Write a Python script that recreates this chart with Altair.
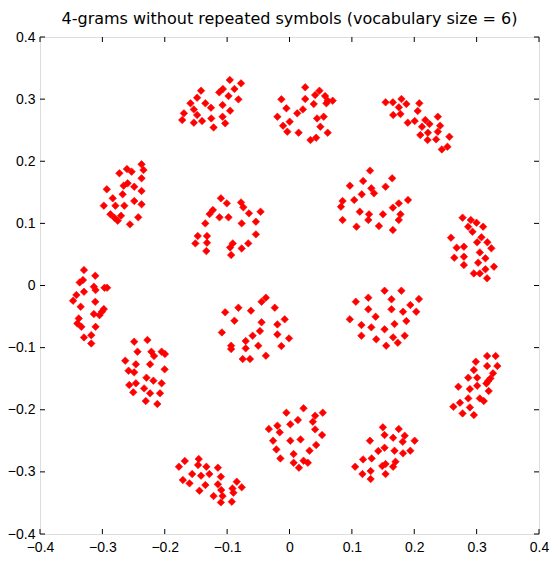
import altair as alt
import pandas as pd

TITLE = "4-grams without repeated symbols (vocabulary size = 6)"
TICKS = [-0.4, -0.3, -0.2, -0.1, 0.0, 0.1, 0.2, 0.3, 0.4]

cluster_01 = [(-0.0957, 0.3308), (-0.0777, 0.3254), (-0.1418, 0.3136), (-0.1068, 0.3163), (-0.1126, 0.3109), (-0.0883, 0.3163),
              (-0.0978, 0.3050), (-0.1481, 0.3023), (-0.0819, 0.2996), (-0.1587, 0.2932), (-0.1349, 0.2932), (-0.1073, 0.2905),
              (-0.1259, 0.2862), (-0.1534, 0.2835), (-0.0952, 0.2814), (-0.1693, 0.2771), (-0.1481, 0.2744), (-0.1720, 0.2663),
              (-0.1073, 0.2717), (-0.1254, 0.2690), (-0.1534, 0.2621), (-0.1402, 0.2647), (-0.1031, 0.2610), (-0.1217, 0.2545)]
cluster_02 = [(0.0252, 0.3190), (0.0480, 0.3136), (-0.0130, 0.2997), (0.0411, 0.3066), (0.0252, 0.3002), (0.0570, 0.3050),
              (0.0612, 0.2975), (0.0692, 0.2975), (0.0591, 0.2932), (0.0389, 0.2921), (-0.0050, 0.2852), (0.0215, 0.2835),
              (0.0124, 0.2771), (-0.0194, 0.2717), (0.0442, 0.2690), (0.0548, 0.2717), (0.0003, 0.2637), (-0.0103, 0.2572),
              (0.0495, 0.2556), (0.0146, 0.2460), (-0.0035, 0.2476), (0.0612, 0.2460), (0.0427, 0.2379), (0.0336, 0.2341)]
cluster_03 = [(0.1541, 0.2948), (0.1657, 0.2948), (0.1795, 0.3002), (0.1874, 0.2921), (0.1753, 0.2868), (0.2081, 0.2932),
              (0.1662, 0.2744), (0.1779, 0.2760), (0.2055, 0.2809), (0.1896, 0.2621), (0.2007, 0.2648), (0.2177, 0.2664),
              (0.2378, 0.2717), (0.2245, 0.2599), (0.2415, 0.2572), (0.2124, 0.2556), (0.2219, 0.2460), (0.2378, 0.2476),
              (0.2097, 0.2422), (0.2563, 0.2395), (0.2214, 0.2341), (0.2351, 0.2352), (0.2532, 0.2234), (0.2442, 0.2191)]
cluster_04 = [(-0.2372, 0.1951), (-0.2341, 0.1859), (-0.2606, 0.1875), (-0.2531, 0.1832), (-0.2727, 0.1806), (-0.2372, 0.1725),
              (-0.2595, 0.1645), (-0.2659, 0.1607), (-0.2489, 0.1591), (-0.2929, 0.1548), (-0.2675, 0.1467), (-0.2372, 0.1521),
              (-0.2834, 0.1403), (-0.2489, 0.1360), (-0.2977, 0.1285), (-0.2791, 0.1285), (-0.2648, 0.1285), (-0.2372, 0.1306),
              (-0.2871, 0.1145), (-0.2807, 0.1091), (-0.2701, 0.1124), (-0.2754, 0.1043), (-0.2425, 0.1097), (-0.2558, 0.0984)]
cluster_05 = [(-0.1100, 0.1403), (-0.1005, 0.1322), (-0.0777, 0.1338), (-0.0740, 0.1258), (-0.1228, 0.1215), (-0.1281, 0.1150),
              (-0.0650, 0.1161), (-0.0464, 0.1188), (-0.1122, 0.1097), (-0.0978, 0.1097), (-0.1350, 0.1000), (-0.0767, 0.1000),
              (-0.0539, 0.1027), (-0.1471, 0.0796), (-0.1323, 0.0796), (-0.0539, 0.0823), (-0.1509, 0.0678), (-0.1323, 0.0689),
              (-0.0910, 0.0678), (-0.0952, 0.0613), (-0.0661, 0.0678), (-0.0767, 0.0597), (-0.1334, 0.0554), (-0.0936, 0.0490)]
cluster_06 = [(0.1291, 0.1849), (0.1646, 0.1725), (0.1180, 0.1682), (0.0968, 0.1607), (0.1312, 0.1564), (0.1540, 0.1591),
              (0.1355, 0.1484), (0.1158, 0.1467), (0.1037, 0.1376), (0.0851, 0.1360), (0.0825, 0.1269), (0.1900, 0.1376),
              (0.1752, 0.1322), (0.1657, 0.1253), (0.1127, 0.1188), (0.1275, 0.1145), (0.1498, 0.1145), (0.1779, 0.1145),
              (0.1264, 0.1054), (0.1752, 0.1054), (0.0851, 0.1054), (0.1074, 0.0947), (0.1434, 0.0957), (0.1657, 0.0893)]
cluster_07 = [(0.2775, 0.1092), (0.2907, 0.1054), (0.2998, 0.1011), (0.2865, 0.0947), (0.3104, 0.0947), (0.2934, 0.0866),
              (0.2589, 0.0770), (0.3077, 0.0775), (0.3008, 0.0695), (0.3172, 0.0695), (0.2680, 0.0609), (0.2796, 0.0625),
              (0.3236, 0.0598), (0.3051, 0.0533), (0.2642, 0.0448), (0.2796, 0.0464), (0.3141, 0.0437), (0.2796, 0.0329),
              (0.3024, 0.0367), (0.3278, 0.0303), (0.2955, 0.0195), (0.3051, 0.0195), (0.3141, 0.0260), (0.3167, 0.0115)]
cluster_08 = [(-0.3295, 0.0248), (-0.3114, 0.0157), (-0.3364, 0.0050), (-0.3311, 0.0087), (-0.3136, -0.0020), (-0.3109, -0.0074),
              (-0.2966, -0.0036), (-0.2924, -0.0036), (-0.3295, -0.0101), (-0.3417, -0.0154), (-0.3470, -0.0246), (-0.3114, -0.0262),
              (-0.3348, -0.0342), (-0.2977, -0.0380), (-0.3008, -0.0423), (-0.3136, -0.0460), (-0.3379, -0.0530), (-0.3401, -0.0611),
              (-0.3337, -0.0665), (-0.3109, -0.0665), (-0.3178, -0.0799), (-0.3295, -0.0836), (-0.3178, -0.0933), (-0.3046, -0.0477)]
cluster_09 = [(-0.0379, -0.0196), (-0.0448, -0.0261), (-0.1031, -0.0432), (-0.0819, -0.0357), (-0.0618, -0.0405), (-0.0236, -0.0357),
              (-0.0883, -0.0567), (-0.0448, -0.0593), (-0.0077, -0.0545), (-0.0194, -0.0626), (-0.0474, -0.0733), (-0.0591, -0.0808),
              (-0.1084, -0.0755), (-0.0194, -0.0787), (-0.0008, -0.0851), (-0.0702, -0.0894), (-0.0936, -0.0969), (-0.0936, -0.1023),
              (-0.0702, -0.1012), (-0.0501, -0.0969), (-0.0130, -0.0975), (-0.0379, -0.1130), (-0.0750, -0.1184), (-0.0633, -0.1184)]
cluster_10 = [(0.1524, -0.0083), (0.1794, -0.0083), (0.1063, -0.0261), (0.1264, -0.0196), (0.1635, -0.0223), (0.2075, -0.0218),
              (0.1937, -0.0314), (0.1264, -0.0384), (0.1635, -0.0384), (0.1820, -0.0422), (0.2032, -0.0422), (0.1381, -0.0502),
              (0.0967, -0.0545), (0.1873, -0.0572), (0.1153, -0.0636), (0.1312, -0.0674), (0.1683, -0.0620), (0.1524, -0.0706),
              (0.1153, -0.0808), (0.1847, -0.0808), (0.1661, -0.0835), (0.1391, -0.0867), (0.1736, -0.0921), (0.1550, -0.0969)]
cluster_11 = [(-0.2490, -0.0904), (-0.2278, -0.0877), (-0.2437, -0.1065), (-0.2214, -0.1065), (-0.2172, -0.1135), (-0.2050, -0.1065),
              (-0.1997, -0.1103), (-0.2633, -0.1210), (-0.2463, -0.1269), (-0.2235, -0.1269), (-0.2580, -0.1371), (-0.2490, -0.1398),
              (-0.2002, -0.1350), (-0.2293, -0.1484), (-0.2182, -0.1532), (-0.2569, -0.1602), (-0.2463, -0.1575), (-0.2050, -0.1575),
              (-0.2331, -0.1656), (-0.2505, -0.1720), (-0.2235, -0.1736), (-0.2076, -0.1736), (-0.2304, -0.1860), (-0.2119, -0.1908)]
cluster_12 = [(0.3168, -0.1135), (0.3305, -0.1135), (0.2987, -0.1227), (0.3168, -0.1296), (0.3332, -0.1296), (0.2956, -0.1361),
              (0.3263, -0.1414), (0.2866, -0.1484), (0.3009, -0.1484), (0.3221, -0.1495), (0.3184, -0.1538), (0.3157, -0.1576),
              (0.2707, -0.1629), (0.3009, -0.1613), (0.2892, -0.1667), (0.3194, -0.1699), (0.2866, -0.1817), (0.3051, -0.1817),
              (0.3115, -0.1860), (0.2733, -0.1887), (0.2627, -0.1951), (0.2892, -0.1962), (0.2775, -0.2059), (0.2956, -0.2086)]
cluster_13 = [(0.0225, -0.1977), (-0.0050, -0.2047), (0.0533, -0.2047), (0.0411, -0.2095), (0.0374, -0.2192), (0.0135, -0.2165),
              (0.0013, -0.2235), (-0.0331, -0.2310), (-0.0194, -0.2256), (-0.0157, -0.2364), (0.0411, -0.2316), (0.0522, -0.2407),
              (-0.0263, -0.2498), (0.0013, -0.2498), (0.0177, -0.2477), (0.0427, -0.2568), (-0.0210, -0.2638), (0.0321, -0.2659),
              (0.0066, -0.2713), (-0.0146, -0.2783), (0.0066, -0.2853), (0.0225, -0.2820), (0.0294, -0.2853), (0.0151, -0.2933)]
cluster_14 = [(0.1497, -0.2283), (0.1752, -0.2310), (0.1524, -0.2407), (0.1661, -0.2450), (0.1847, -0.2418), (0.1290, -0.2498),
              (0.1815, -0.2514), (0.2006, -0.2498), (0.1524, -0.2611), (0.1423, -0.2665), (0.1683, -0.2659), (0.1820, -0.2702),
              (0.1937, -0.2659), (0.1317, -0.2783), (0.1179, -0.2799), (0.1699, -0.2836), (0.1052, -0.2917), (0.1487, -0.2906),
              (0.1540, -0.2874), (0.1661, -0.2917), (0.1169, -0.3035), (0.1301, -0.2987), (0.1540, -0.3035), (0.1301, -0.3116)]
cluster_15 = [(-0.1773, -0.2917), (-0.1678, -0.2825), (-0.1455, -0.2793), (-0.1466, -0.2890), (-0.1333, -0.2917), (-0.1148, -0.2933),
              (-0.1561, -0.3035), (-0.1418, -0.3061), (-0.1285, -0.3035), (-0.1100, -0.3078), (-0.1709, -0.3131), (-0.1603, -0.3185),
              (-0.1349, -0.3212), (-0.1148, -0.3201), (-0.1444, -0.3303), (-0.1095, -0.3292), (-0.1217, -0.3389), (-0.1073, -0.3389),
              (-0.0846, -0.3158), (-0.0766, -0.3249), (-0.0914, -0.3266), (-0.0899, -0.3335), (-0.0925, -0.3480), (-0.1100, -0.3491)]

clusters = [cluster_01, cluster_02, cluster_03, cluster_04, cluster_05, cluster_06, cluster_07, cluster_08,
            cluster_09, cluster_10, cluster_11, cluster_12, cluster_13, cluster_14, cluster_15]

rows = []
for ci, cl in enumerate(clusters):
    for (x, y) in cl:
        rows.append({"x": x, "y": y, "cluster": ci + 1})
df = pd.DataFrame(rows)
ticks_df = pd.DataFrame({"t": TICKS})

W, H = 499, 497
PAD = {"left": 32, "top": 29, "right": 11, "bottom": 19}
FONT = "Liberation Sans"

xscale = alt.Scale(domain=[-0.4, 0.4], nice=False, zero=False)
yscale = alt.Scale(domain=[-0.4, 0.4], nice=False, zero=False)

axis_kw = dict(values=TICKS, format=".1~f", title=None, grid=False, domain=False, ticks=False,
               labelFontSize=14, labelFont=FONT, labelColor="black", labelFlush=False, labelOverlap=False)
xaxis = alt.Axis(labelPadding=6, **axis_kw)
yaxis = alt.Axis(labelPadding=5, **axis_kw)

points = alt.Chart(df).mark_point(shape="diamond", filled=True, color="#ff0000", size=56, opacity=1,
                                  stroke="#ff0000", strokeWidth=0.6).encode(
    x=alt.X("x:Q", scale=xscale, axis=xaxis),
    y=alt.Y("y:Q", scale=yscale, axis=yaxis),
)

tick_len = 5
xt_bottom = alt.Chart(ticks_df).mark_rule(color="black", strokeWidth=1).encode(
    x=alt.X("t:Q", scale=xscale), y=alt.value(H), y2=alt.value(H - tick_len))
xt_top = alt.Chart(ticks_df).mark_rule(color="black", strokeWidth=1).encode(
    x=alt.X("t:Q", scale=xscale), y=alt.value(0), y2=alt.value(tick_len))
yt_left = alt.Chart(ticks_df).mark_rule(color="black", strokeWidth=1).encode(
    y=alt.Y("t:Q", scale=yscale), x=alt.value(0), x2=alt.value(tick_len))
yt_right = alt.Chart(ticks_df).mark_rule(color="black", strokeWidth=1).encode(
    y=alt.Y("t:Q", scale=yscale), x=alt.value(W), x2=alt.value(W - tick_len))

chart = alt.layer(points, xt_bottom, xt_top, yt_left, yt_right).properties(
    width=W, height=H,
    title=alt.TitleParams(TITLE, fontSize=16, font="DejaVu Sans", fontWeight="normal", color="black",
                          anchor="middle", offset=3),
    autosize=alt.AutoSizeParams(type="none"),
    padding=PAD,
).configure_view(stroke="black", strokeWidth=1).configure(background="white")

chart.save("out.html", embed_options={"renderer": "svg", "actions": False})
